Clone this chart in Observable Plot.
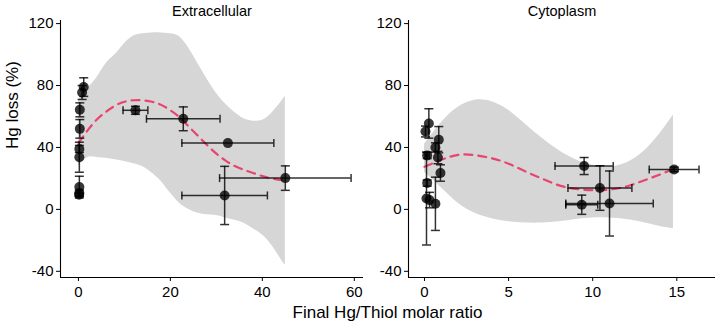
<!DOCTYPE html>
<html>
<head>
<meta charset="utf-8">
<script src="https://cdn.jsdelivr.net/npm/d3@7"></script>
<script src="https://cdn.jsdelivr.net/npm/@observablehq/plot@0.6"></script>
<style>
  body { margin: 0; background: #fff; font-family: "Liberation Sans", Arial, Helvetica, sans-serif; }
  #fig { position: relative; width: 715px; height: 326px; overflow: hidden; }
  #panels { display: flex; }
  #panels svg { display: block; }
  #xlabel { position: absolute; left: 60px; width: 655px; top: 303px; text-align: center; font-size: 17px; color: #000; line-height: 20px; }
</style>
</head>
<body>
<div id="fig">
  <div id="panels"></div>
  <div id="xlabel">Final Hg/Thiol molar ratio</div>
</div>
<script>
// Extracellular: mean Hg loss (%) vs final Hg/thiol ratio, with SD in both directions
const extX   = [1.15, 0.8, 0.3, 0.3, 0.2, 0.2, 0.2, 0.2, 0.15, 12.4, 22.8, 32.5, 31.8, 45.0];
const extY   = [79, 75.5, 64.3, 52, 39, 33.7, 14.4, 10.5, 9.5, 64, 58.5, 42.8, 9, 20.2];
const extXsd = [0, 0, 0, 0, 0, 0, 0, 0, 0, 2.7, 8, 10, 9.3, 14.3];
const extYsd = [6, 4.5, 4.5, 6, 2.3, 9.7, 7, 2, 1, 2.6, 7.7, 0, 18.8, 7.9];

// Extracellular loess fit and its confidence band
const extFitX = [0, 2, 4, 6, 8, 10, 12, 14, 16, 18, 20, 22, 24, 26, 28, 30, 32, 34, 36, 38, 40, 42, 44, 45];
const extFitY = [43, 51, 58, 63, 67, 69.5, 70.5, 70.5, 69.5, 67.5, 64, 59.5, 53.5, 47.5, 41.5, 36, 31.5, 28, 25.5, 23.5, 21.5, 20, 19, 18.5];
const extHi   = [70, 78, 85, 94, 100, 107, 112, 113.5, 114, 114, 113.5, 111.5, 104, 94, 84, 75, 68, 62.5, 58.5, 57, 57.5, 62, 69, 73];
const extLo   = [28, 33.5, 33.5, 33, 32, 31, 29.5, 27.5, 23.5, 18, 10.5, 4, 0, -2.5, -3.5, -4, -5.5, -7, -9, -12.5, -16.5, -23, -32, -36];

// Cytoplasm
const cytX   = [0.26, 0.06, 0.85, 0.65, 0.16, 0.8, 0.95, 0.16, 0.12, 0.3, 0.65, 9.49, 10.43, 9.35, 11.0, 14.84];
const cytY   = [55.5, 50.3, 45, 40, 34.8, 33.5, 23.5, 17, 7, 6, 3.6, 28, 13.8, 3, 3.8, 25.8];
const cytXsd = [0, 0, 0, 0, 0.12, 0, 0, 0, 0, 0, 0, 1.73, 1.9, 0.95, 2.6, 1.48];
const cytYsd = [9.5, 3.5, 8.5, 3, 2, 4, 5.3, 2, 30, 5, 17.2, 5.5, 14.4, 6.2, 21, 1.5];

const cytFitX = [0, 1, 2, 3, 4, 5, 6, 7, 8, 9, 10, 11, 12, 13, 14, 14.8];
const cytFitY = [27.5, 32, 35.2, 35, 33, 29.5, 24.5, 19.8, 15.5, 13.2, 12.4, 12.8, 14.8, 18.5, 22.5, 26];
const cytHi   = [42, 56, 66, 70.5, 69.5, 64, 55, 46, 38, 32, 28.5, 27.5, 30, 37, 49, 61];
const cytLo   = [24, 14, 4, -2.5, -6, -8, -8.8, -8.8, -8, -6.5, -5.5, -5.5, -6.5, -8.5, -11, -12.5];

// Axis ticks
const yTicks = [-40, 0, 40, 80, 120];
const extTicks = [0, 20, 40, 60];
const cytTicks = [0, 5, 10, 15];

// Error-bar caps drawn as short line symbols
const capH = { draw(ctx, size) { const r = Math.sqrt(size / Math.PI); ctx.moveTo(-r, 0); ctx.lineTo(r, 0); } };
const capV = { draw(ctx, size) { const r = Math.sqrt(size / Math.PI); ctx.moveTo(0, -r); ctx.lineTo(0, r); } };

const FONT = "Liberation Sans, Arial, Helvetica, sans-serif";
const barStyle = { stroke: "#000", strokeOpacity: 0.8, strokeWidth: 1.5 };

function panel({ xs, ys, xsd, ysd, fitX, fitY, lo, hi, xDomain, xTicks, width, marginLeft, title, ylabel }) {
  const pts = xs.map((x, i) => ({ x, y: ys[i], xsd: xsd[i], ysd: ysd[i] }));
  const fit = fitX.map((x, i) => ({ x, y: fitY[i], lo: lo[i], hi: hi[i] }));
  const vErr = pts.filter(d => d.ysd > 0);
  const hErr = pts.filter(d => d.xsd > 0);
  const yDomain = [-44, 122];
  const marks = [
    Plot.areaY(fit, { x: "x", y1: "lo", y2: "hi", fill: "#d6d6d6", curve: "natural" }),
    Plot.line(fit, { x: "x", y: "y", stroke: "#e8456e", strokeWidth: 2.2, strokeDasharray: "8,6", curve: "natural" }),
    Plot.ruleX(vErr, { x: "x", y1: d => d.y - d.ysd, y2: d => d.y + d.ysd, ...barStyle }),
    Plot.dot(vErr, { x: "x", y: d => d.y - d.ysd, symbol: capH, r: 4.5, ...barStyle }),
    Plot.dot(vErr, { x: "x", y: d => d.y + d.ysd, symbol: capH, r: 4.5, ...barStyle }),
    Plot.ruleY(hErr, { y: "y", x1: d => d.x - d.xsd, x2: d => d.x + d.xsd, ...barStyle }),
    Plot.dot(hErr, { x: d => d.x - d.xsd, y: "y", symbol: capV, r: 4, ...barStyle }),
    Plot.dot(hErr, { x: d => d.x + d.xsd, y: "y", symbol: capV, r: 4, ...barStyle }),
    Plot.dot(pts, { x: "x", y: "y", r: 5, fill: "#000", fillOpacity: 0.78, stroke: "none" }),
    Plot.ruleX([xDomain[0]], { stroke: "#000", strokeWidth: 1.1 }),
    Plot.ruleY([yDomain[0]], { stroke: "#000", strokeWidth: 1.1 }),
    Plot.text([title], { frameAnchor: "top", lineAnchor: "bottom", dy: -5, fontSize: 14.5, fill: "#000" })
  ];
  if (ylabel) {
    marks.push(Plot.text([ylabel], { frameAnchor: "left", dx: -48, rotate: -90, fontSize: 17, fill: "#000" }));
  }
  return Plot.plot({
    width,
    height: 300,
    marginTop: 20,
    marginBottom: 23,
    marginLeft,
    marginRight: 0,
    style: { fontFamily: FONT, fontSize: "15px", color: "#000", background: "#fff", overflow: "visible" },
    x: { domain: xDomain, ticks: xTicks, tickSize: 4, tickPadding: 5, label: null, tickFormat: d => String(d) },
    y: { domain: yDomain, ticks: yTicks, tickSize: 4, tickPadding: 3, label: null, tickFormat: d => String(d) },
    marks
  });
}

const host = document.getElementById("panels");
host.append(panel({
  xs: extX, ys: extY, xsd: extXsd, ysd: extYsd,
  fitX: extFitX, fitY: extFitY, lo: extLo, hi: extHi,
  xDomain: [-3.9, 62], xTicks: extTicks, width: 363, marginLeft: 60,
  title: "Extracellular", ylabel: "Hg loss (%)"
}));
host.append(panel({
  xs: cytX, ys: cytY, xsd: cytXsd, ysd: cytYsd,
  fitX: cytFitX, fitY: cytFitY, lo: cytLo, hi: cytHi,
  xDomain: [-0.95, 17.3], xTicks: cytTicks, width: 352, marginLeft: 45,
  title: "Cytoplasm"
}));
</script>
</body>
</html>
